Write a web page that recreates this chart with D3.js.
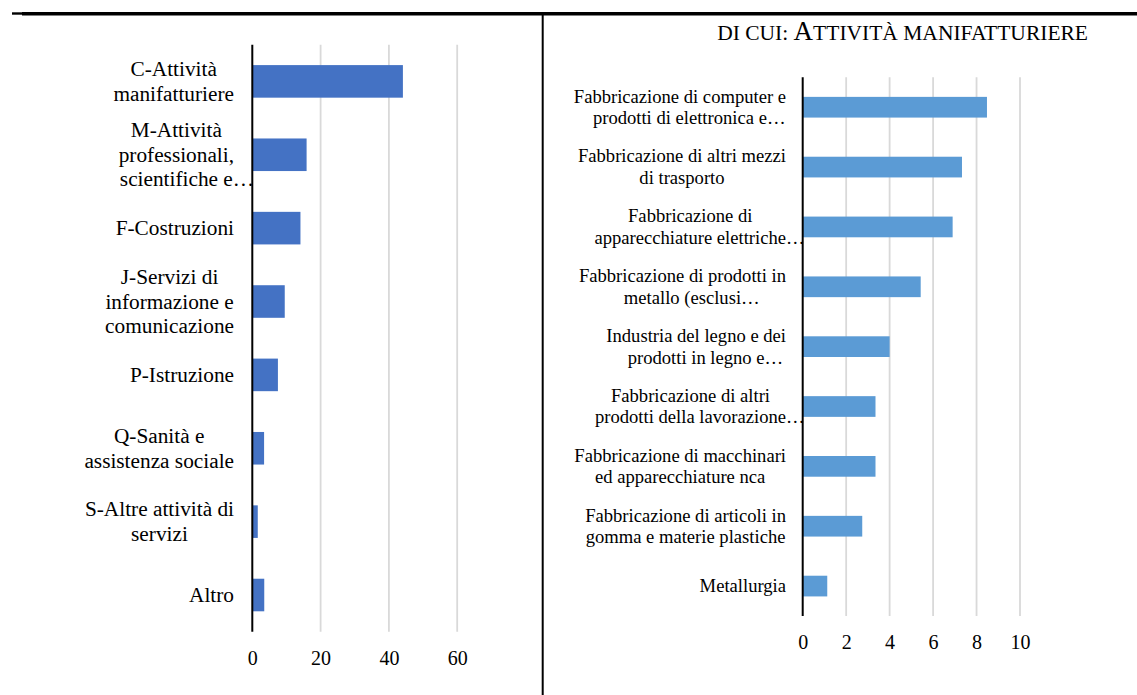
<!DOCTYPE html>
<html>
<head>
<meta charset="utf-8">
<script src="https://cdn.jsdelivr.net/npm/d3@7"></script>
<style>
  body { margin: 0; background: #fff; }
  svg { display: block; font-family: "Liberation Serif", "Times New Roman", serif; }
</style>
</head>
<body>
<div id="grafika"></div>
<script>
// settori (grafico di sinistra)
const sectorLabels = [
  ["C-Attività", "manifatturiere"],
  ["M-Attività", "professionali,", "scientifiche e…"],
  ["F-Costruzioni"],
  ["J-Servizi di", "informazione e", "comunicazione"],
  ["P-Istruzione"],
  ["Q-Sanità e", "assistenza sociale"],
  ["S-Altre attività di", "servizi"],
  ["Altro"]
];
const sectorValues = [44.1, 15.9, 14.1, 9.5, 7.5, 3.45, 1.6, 3.5];
const sectorTicks = [0, 20, 40, 60];

// di cui: attività manifatturiere (grafico di destra)
const manufLabels = [
  ["Fabbricazione di computer e", "prodotti di elettronica e…"],
  ["Fabbricazione di altri mezzi", "di trasporto"],
  ["Fabbricazione di", "apparecchiature elettriche…"],
  ["Fabbricazione di prodotti in", "metallo (esclusi…"],
  ["Industria del legno e dei", "prodotti in legno e…"],
  ["Fabbricazione di altri", "prodotti della lavorazione…"],
  ["Fabbricazione di macchinari", "ed apparecchiature nca"],
  ["Fabbricazione di articoli in", "gomma e materie plastiche"],
  ["Metallurgia"]
];
const manufValues = [8.48, 7.33, 6.9, 5.43, 4.0, 3.35, 3.35, 2.74, 1.13];
const manufTicks = [0, 2, 4, 6, 8, 10];

const W = 1137, H = 695;
const serif = "Liberation Serif, Times New Roman, serif";

const svg = d3.select("#grafika")
  .append("svg")
  .attr("width", W)
  .attr("height", H);

// cornice: linea in alto e separatore verticale
svg.append("line")
  .attr("x1", 12).attr("x2", 22).attr("y1", 13.5).attr("y2", 13.5)
  .attr("stroke", "#000").attr("stroke-width", 2.4);
svg.append("line")
  .attr("x1", 22).attr("x2", W).attr("y1", 13.7).attr("y2", 13.7)
  .attr("stroke", "#000").attr("stroke-width", 3.6);
svg.append("line")
  .attr("x1", 542.7).attr("x2", 542.7).attr("y1", 14).attr("y2", H)
  .attr("stroke", "#000").attr("stroke-width", 2);

const draw_bars = (cfg) => {
  const x = d3.scaleLinear().domain(cfg.domain).range([cfg.left, cfg.right]);
  const y = d3.scaleBand()
    .domain(cfg.labels.map((d, i) => i))
    .range([cfg.top, cfg.bottom])
    .paddingInner(cfg.pad)
    .paddingOuter(cfg.pad / 2);

  const g = svg.append("g");

  // griglia
  g.append("g").selectAll("line")
    .data(cfg.ticks.filter(t => t > 0))
    .enter()
    .append("line")
    .attr("x1", d => x(d)).attr("x2", d => x(d))
    .attr("y1", cfg.top).attr("y2", cfg.bottom)
    .attr("stroke", "#d9d9d9")
    .attr("stroke-width", 1.8);

  // barre
  g.append("g").selectAll("rect")
    .data(cfg.values)
    .enter()
    .append("rect")
    .attr("x", x(0))
    .attr("y", (d, i) => y(i))
    .attr("width", d => x(d) - x(0))
    .attr("height", y.bandwidth())
    .attr("fill", cfg.color);

  // asse verticale
  g.append("line")
    .attr("x1", x(0)).attr("x2", x(0))
    .attr("y1", cfg.top).attr("y2", cfg.bottom)
    .attr("stroke", "#000")
    .attr("stroke-width", 2);

  // etichette asse x
  const xAxis = g.append("g")
    .attr("transform", `translate(0, ${cfg.bottom})`)
    .call(d3.axisBottom(x).tickValues(cfg.ticks).tickSize(0).tickPadding(cfg.tickPad).tickFormat(d3.format("d")));
  xAxis.select(".domain").remove();
  xAxis.attr("font-family", serif);
  xAxis.selectAll("text")
    .attr("font-size", cfg.tickFont)
    .attr("fill", "#000");

  // etichette categorie, a capo e centrate nel blocco
  const lab = g.append("g")
    .attr("font-family", serif)
    .attr("font-size", cfg.labelFont)
    .attr("fill", "#000");
  cfg.labels.forEach((lines, i) => {
    const cy = y(i) + y.bandwidth() / 2;
    const n = lines.length;
    const items = lines.map((line, k) => {
      const plain = line.replace("…", "");
      const t = lab.append("text")
        .attr("y", cy + (k - (n - 1) / 2) * cfg.lineH + cfg.labelFont * 0.33)
        .text(plain);
      return { t, line, w: t.node().getComputedTextLength() };
    });
    const block = d3.max(items, d => d.w);
    const cx = cfg.labelRight - block / 2;
    items.forEach(d => {
      d.t.attr("x", cx - d.w / 2).text(d.line);
    });
  });
};

draw_bars({
  labels: sectorLabels, values: sectorValues, ticks: sectorTicks,
  domain: [0, 60], left: 252.3, right: 457.2, top: 44.7, bottom: 631.7,
  pad: 0.556, color: "#4472c4", tickFont: 20, tickPad: 19,
  labelFont: 21.3, lineH: 24.5, labelRight: 234
});

draw_bars({
  labels: manufLabels, values: manufValues, ticks: manufTicks,
  domain: [0, 10], left: 802.7, right: 1020, top: 77.3, bottom: 616,
  pad: 0.654, color: "#5b9bd5", tickFont: 20, tickPad: 19,
  labelFont: 18.6, lineH: 21.5, labelRight: 786
});

// titolo in maiuscoletto
const title = svg.append("text")
  .attr("x", 1088)
  .attr("y", 40)
  .attr("text-anchor", "end")
  .attr("font-family", serif)
  .attr("fill", "#000");
title.append("tspan").attr("font-size", 21.5).text("DI CUI: ");
title.append("tspan").attr("font-size", 27).text("A");
title.append("tspan").attr("font-size", 21.5).text("TTIVITÀ MANIFATTURIERE");
</script>
</body>
</html>
